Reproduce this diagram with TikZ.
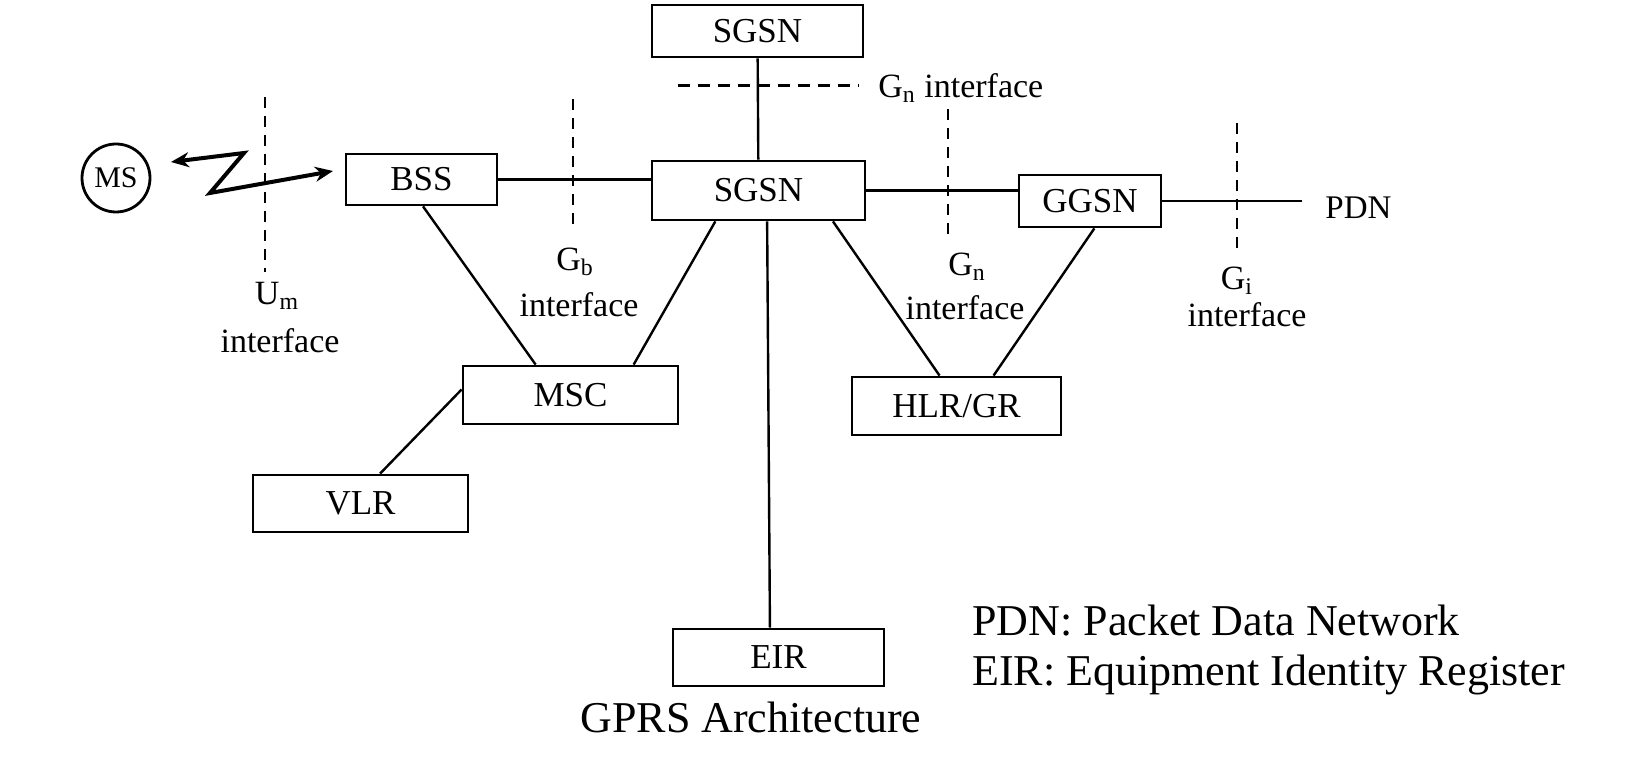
\documentclass[tikz,border=0pt]{standalone}
\usepackage{fontspec}
\setmainfont{Liberation Serif}
\usetikzlibrary{arrows.meta,calc}
\begin{document}
\begin{tikzpicture}[x=0.5pt,y=-0.5pt,
  box/.style={draw,line width=1.4pt,inner sep=0pt,font=\fontsize{17.5}{20}\selectfont},
  link/.style={line width=1.2pt},
  iface/.style={line width=1.2pt,dash pattern=on 5.5pt off 4pt},
  lbl/.style={inner sep=0pt,font=\fontsize{17}{20}\selectfont},
  legend/.style={inner sep=0pt,font=\fontsize{22}{26}\selectfont}]
\useasboundingbox (0,0) rectangle (1630,758);
% boxes
\node[box,minimum width=105.5pt,minimum height=26pt] (sgsnt) at (757.5,31) {SGSN};
\node[box,minimum width=106.5pt,minimum height=29.5pt] (sgsn) at (758.5,190.5) {SGSN};
\node[box,minimum width=75.5pt,minimum height=25.5pt] (bss) at (421.5,179.5) {BSS};
\node[box,minimum width=71pt,minimum height=26pt] (ggsn) at (1090,201) {GGSN};
\node[box,minimum width=107.5pt,minimum height=29pt] (msc) at (570.5,395) {MSC};
\node[box,minimum width=107.5pt,minimum height=28.5pt] (vlr) at (360.5,503.5) {VLR};
\node[box,minimum width=104.5pt,minimum height=29pt] (hlr) at (956.5,406) {HLR/GR};
\node[box,minimum width=105.5pt,minimum height=28.5pt] (eir) at (778.5,657.5) {EIR};
\node[draw,circle,line width=1.4pt,minimum size=34pt,inner sep=0pt,font=\fontsize{15}{18}\selectfont] (ms) at (116,178) {MS};
% links
\draw[link] (sgsnt) -- (sgsn);
\draw[link] (bss.east) -- (bss.east -| sgsn.west);
\draw[link] (sgsn.east) -- (sgsn.east -| ggsn.west);
\coordinate (pdnend) at (1302,201);
\draw[link] (ggsn.east) -- (pdnend);
\node[lbl,anchor=west,font=\fontsize{16.5}{20}\selectfont] (pdn) at (1325,208) {PDN};
\draw[link] ($(bss.south west)!0.51!(bss.south east)$) -- ($(msc.north west)!0.34!(msc.north east)$);
\draw[link] ($(sgsn.south west)!0.30!(sgsn.south east)$) -- ($(msc.north west)!0.79!(msc.north east)$);
\draw[link] ($(msc.north west)!0.41!(msc.south west)$) -- ($(vlr.north west)!0.59!(vlr.north east)$);
\draw[link] ($(sgsn.south west)!0.845!(sgsn.south east)$) -- ($(hlr.north west)!0.42!(hlr.north east)$);
\draw[link] ($(ggsn.south west)!0.53!(ggsn.south east)$) -- ($(hlr.north west)!0.675!(hlr.north east)$);
\draw[link] ($(sgsn.south west)!0.54!(sgsn.south east)$) -- ($(eir.north west)!0.46!(eir.north east)$);
% radio link
\coordinate (z1) at (171,162);
\coordinate (z2) at (244,153);
\coordinate (z3) at (210,193);
\coordinate (z4) at (333,171);
\draw[line width=2pt,line join=miter,{Stealth[length=9pt,width=7.5pt]}-{Stealth[length=9pt,width=7.5pt]}] (z1) -- (z2) -- (z3) -- (z4);
% interfaces
\coordinate (um1) at (265,97);   \coordinate (um2) at (265,272);
\coordinate (gb1) at (573,99);   \coordinate (gb2) at (573,227);
\coordinate (gn1) at (948,109);  \coordinate (gn2) at (948,239);
\coordinate (gi1) at (1237,123); \coordinate (gi2) at (1237,255);
\coordinate (gt1) at (678,86);   \coordinate (gt2) at (859,86);
\draw[iface] (um1) -- (um2);
\draw[iface] (gb1) -- (gb2);
\draw[iface] (gn1) -- (gn2);
\draw[iface] (gi1) -- (gi2);
\draw[iface,line width=1.5pt,dash pattern=on 6pt off 4pt] (gt1) -- (gt2);
\node[lbl] (umsub) at (277,296) {U\textsubscript{m}};
\node[lbl] (umif) at (280,341) {interface};
\node[lbl] (gbsub) at (575,262) {G\textsubscript{b}};
\node[lbl] (gbif) at (579,305) {interface};
\node[lbl] (gnsub) at (967,267) {G\textsubscript{n}};
\node[lbl] (gnif) at (965,308) {interface};
\node[lbl] (gisub) at (1237,281) {G\textsubscript{i}};
\node[lbl] (giif) at (1247,315) {interface};
\node[lbl,anchor=west] (gtif) at (878,88) {G\textsubscript{n} interface};
% legend and caption
\node[legend,anchor=base west] (leg1) at (972,636) {PDN: Packet Data Network};
\node[legend,anchor=base west] (leg2) at (972,686) {EIR: Equipment Identity Register};
\node[legend,anchor=base] (cap) at (751,733) {GPRS Architecture};
\end{tikzpicture}
\end{document}
